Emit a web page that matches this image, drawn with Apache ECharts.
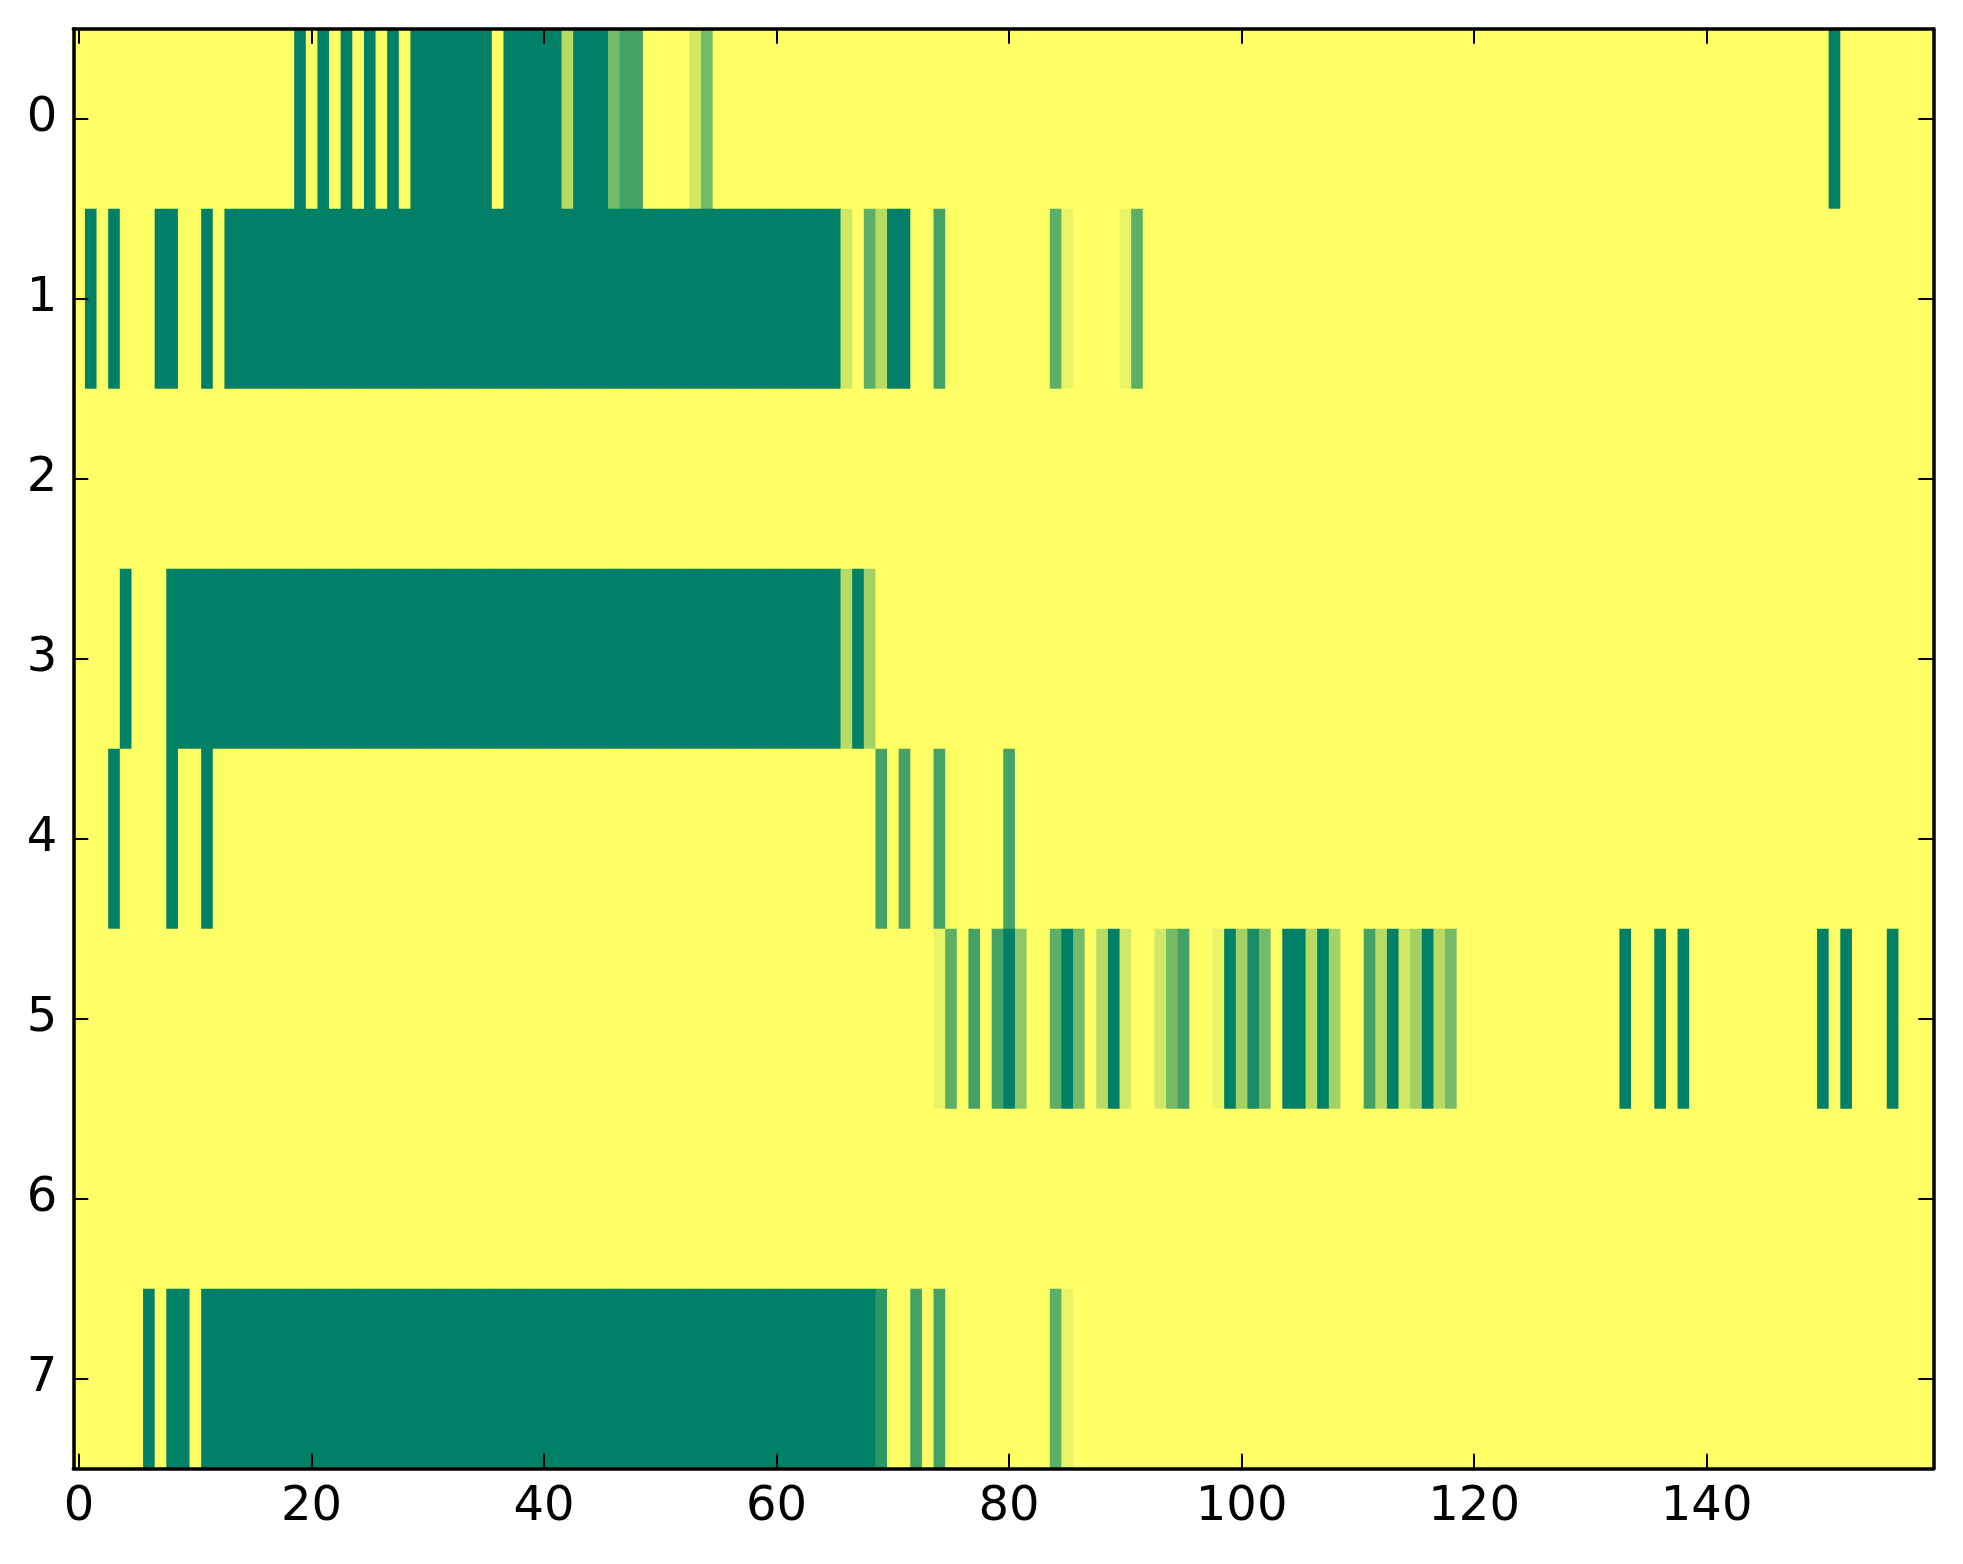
<!DOCTYPE html>
<html>
<head>
<meta charset="utf-8">
<script src="https://cdn.jsdelivr.net/npm/echarts@6/dist/echarts.min.js"></script>
<style>
html,body{margin:0;padding:0;background:#fff;}
#chart{width:1963px;height:1564px;}
</style>
</head>
<body>
<div id="chart"></div>
<script>
// Column categories 0..159 and row categories 0..7
const xCategories = ['0','1','2','3','4','5','6','7','8','9','10','11','12','13','14','15','16','17','18','19','20','21','22','23','24','25','26','27','28','29','30','31','32','33','34','35','36','37','38','39','40','41','42','43','44','45','46','47','48','49','50','51','52','53','54','55','56','57','58','59','60','61','62','63','64','65','66','67','68','69','70','71','72','73','74','75','76','77','78','79','80','81','82','83','84','85','86','87','88','89','90','91','92','93','94','95','96','97','98','99','100','101','102','103','104','105','106','107','108','109','110','111','112','113','114','115','116','117','118','119','120','121','122','123','124','125','126','127','128','129','130','131','132','133','134','135','136','137','138','139','140','141','142','143','144','145','146','147','148','149','150','151','152','153','154','155','156','157','158','159'];
const yCategories = ['0','1','2','3','4','5','6','7'];
const xTickLabels = ['0','20','40','60','80','100','120','140'];

// Cell values per row (0 = yellow, 1 = dark green), 160 columns each
const row0 = [
0,0,0,0,0,0,0,0,0,0, 0,0,0,0,0,0,0,0,0,1, 0,1,0,1,0,1,0,1,0,1, 1,1,1,1,1,1,0,1,1,1,
1,1,.28,1,1,1,.54,.73,.73,0, 0,0,0,.18,.54,0,0,0,0,0, 0,0,0,0,0,0,0,0,0,0, 0,0,0,0,0,0,0,0,0,0,
0,0,0,0,0,0,0,0,0,0, 0,0,0,0,0,0,0,0,0,0, 0,0,0,0,0,0,0,0,0,0, 0,0,0,0,0,0,0,0,0,0,
0,0,0,0,0,0,0,0,0,0, 0,0,0,0,0,0,0,0,0,0, 0,0,0,0,0,0,0,0,0,0, 0,1,0,0,0,0,0,0,0,0];
const row1 = [
0,1,0,1,0,0,0,1,1,0, 0,1,0,1,1,1,1,1,1,1, 1,1,1,1,1,1,1,1,1,1, 1,1,1,1,1,1,1,1,1,1,
1,1,1,1,1,1,1,1,1,1, 1,1,1,1,1,1,1,1,1,1, 1,1,1,1,1,1,.18,0,.63,.28, 1,1,0,0,.73,0,0,0,0,0,
0,0,0,0,.63,.09,0,0,0,0, .09,.63,0,0,0,0,0,0,0,0, 0,0,0,0,0,0,0,0,0,0, 0,0,0,0,0,0,0,0,0,0,
0,0,0,0,0,0,0,0,0,0, 0,0,0,0,0,0,0,0,0,0, 0,0,0,0,0,0,0,0,0,0, 0,0,0,0,0,0,0,0,0,0];
const row2 = [
0,0,0,0,0,0,0,0,0,0, 0,0,0,0,0,0,0,0,0,0, 0,0,0,0,0,0,0,0,0,0, 0,0,0,0,0,0,0,0,0,0,
0,0,0,0,0,0,0,0,0,0, 0,0,0,0,0,0,0,0,0,0, 0,0,0,0,0,0,0,0,0,0, 0,0,0,0,0,0,0,0,0,0,
0,0,0,0,0,0,0,0,0,0, 0,0,0,0,0,0,0,0,0,0, 0,0,0,0,0,0,0,0,0,0, 0,0,0,0,0,0,0,0,0,0,
0,0,0,0,0,0,0,0,0,0, 0,0,0,0,0,0,0,0,0,0, 0,0,0,0,0,0,0,0,0,0, 0,0,0,0,0,0,0,0,0,0];
const row3 = [
0,0,0,0,1,0,0,0,1,1, 1,1,1,1,1,1,1,1,1,1, 1,1,1,1,1,1,1,1,1,1, 1,1,1,1,1,1,1,1,1,1,
1,1,1,1,1,1,1,1,1,1, 1,1,1,1,1,1,1,1,1,1, 1,1,1,1,1,1,.28,1,.36,0, 0,0,0,0,0,0,0,0,0,0,
0,0,0,0,0,0,0,0,0,0, 0,0,0,0,0,0,0,0,0,0, 0,0,0,0,0,0,0,0,0,0, 0,0,0,0,0,0,0,0,0,0,
0,0,0,0,0,0,0,0,0,0, 0,0,0,0,0,0,0,0,0,0, 0,0,0,0,0,0,0,0,0,0, 0,0,0,0,0,0,0,0,0,0];
const row4 = [
0,0,0,1,0,0,0,0,1,0, 0,1,0,0,0,0,0,0,0,0, 0,0,0,0,0,0,0,0,0,0, 0,0,0,0,0,0,0,0,0,0,
0,0,0,0,0,0,0,0,0,0, 0,0,0,0,0,0,0,0,0,0, 0,0,0,0,0,0,0,0,0,.73, 0,.73,0,0,.73,0,0,0,0,0,
.73,0,0,0,0,0,0,0,0,0, 0,0,0,0,0,0,0,0,0,0, 0,0,0,0,0,0,0,0,0,0, 0,0,0,0,0,0,0,0,0,0,
0,0,0,0,0,0,0,0,0,0, 0,0,0,0,0,0,0,0,0,0, 0,0,0,0,0,0,0,0,0,0, 0,0,0,0,0,0,0,0,0,0];
const row5 = [
0,0,0,0,0,0,0,0,0,0, 0,0,0,0,0,0,0,0,0,0, 0,0,0,0,0,0,0,0,0,0, 0,0,0,0,0,0,0,0,0,0,
0,0,0,0,0,0,0,0,0,0, 0,0,0,0,0,0,0,0,0,0, 0,0,0,0,0,0,0,0,0,0, 0,0,0,0,.09,.63,0,.73,0,.73,
1,.45,0,0,.63,1,.54,0,.28,1, .18,0,0,.18,.54,.73,0,0,.09,1, .36,.9,.54,0,1,1,.28,1,.36,0, 0,.73,.28,1,.18,.36,1,.28,.54,0,
0,0,0,0,0,0,0,0,0,0, 0,0,0,1,0,0,1,0,1,0, 0,0,0,0,0,0,0,0,0,0, 1,0,1,0,0,0,1,0,0,0];
const row6 = [
0,0,0,0,0,0,0,0,0,0, 0,0,0,0,0,0,0,0,0,0, 0,0,0,0,0,0,0,0,0,0, 0,0,0,0,0,0,0,0,0,0,
0,0,0,0,0,0,0,0,0,0, 0,0,0,0,0,0,0,0,0,0, 0,0,0,0,0,0,0,0,0,0, 0,0,0,0,0,0,0,0,0,0,
0,0,0,0,0,0,0,0,0,0, 0,0,0,0,0,0,0,0,0,0, 0,0,0,0,0,0,0,0,0,0, 0,0,0,0,0,0,0,0,0,0,
0,0,0,0,0,0,0,0,0,0, 0,0,0,0,0,0,0,0,0,0, 0,0,0,0,0,0,0,0,0,0, 0,0,0,0,0,0,0,0,0,0];
const row7 = [
0,0,0,0,0,0,1,0,1,1, 0,1,1,1,1,1,1,1,1,1, 1,1,1,1,1,1,1,1,1,1, 1,1,1,1,1,1,1,1,1,1,
1,1,1,1,1,1,1,1,1,1, 1,1,1,1,1,1,1,1,1,1, 1,1,1,1,1,1,1,1,1,.82, 0,0,.73,0,.73,0,0,0,0,0,
0,0,0,0,.63,.09,0,0,0,0, 0,0,0,0,0,0,0,0,0,0, 0,0,0,0,0,0,0,0,0,0, 0,0,0,0,0,0,0,0,0,0,
0,0,0,0,0,0,0,0,0,0, 0,0,0,0,0,0,0,0,0,0, 0,0,0,0,0,0,0,0,0,0, 0,0,0,0,0,0,0,0,0,0];

const rows = [row0, row1, row2, row3, row4, row5, row6, row7];

const cells = [];
rows.forEach(function (r, yi) {
  r.forEach(function (v, xi) { cells.push([xi, yi, v]); });
});

const FONT = 'DejaVu Sans';
const showX = function (idx, val) { return xTickLabels.indexOf(String(val)) >= 0; };

const baseAxis = {
  axisLine: { show: true, onZero: false, lineStyle: { color: '#000', width: 3.5 } },
  axisTick: { show: true, inside: true, length: 15, alignWithLabel: true, lineStyle: { color: '#000', width: 2 } },
  splitLine: { show: false },
  z: 10
};

const chart = echarts.init(document.getElementById('chart'), null, { renderer: 'canvas' });
chart.setOption({
  animation: false,
  backgroundColor: '#ffffff',
  grid: { left: 73.3, top: 28.7, width: 1860, height: 1440, containLabel: false },
  xAxis: [
    Object.assign({}, baseAxis, {
      type: 'category', data: xCategories, position: 'bottom',
      axisTick: Object.assign({}, baseAxis.axisTick, { interval: showX }),
      axisLabel: { show: true, interval: showX, margin: 15, color: '#000', fontFamily: FONT, fontSize: 48 }
    }),
    Object.assign({}, baseAxis, {
      type: 'category', data: xCategories, position: 'top',
      axisTick: Object.assign({}, baseAxis.axisTick, { interval: showX }),
      axisLabel: { show: false }
    })
  ],
  yAxis: [
    Object.assign({}, baseAxis, {
      type: 'category', data: yCategories, inverse: true, position: 'left',
      axisTick: Object.assign({}, baseAxis.axisTick, { interval: 0 }),
      axisLabel: { show: true, interval: 0, margin: 16, color: '#000', fontFamily: FONT, fontSize: 48 }
    }),
    Object.assign({}, baseAxis, {
      type: 'category', data: yCategories, inverse: true, position: 'right',
      axisTick: Object.assign({}, baseAxis.axisTick, { interval: 0 }),
      axisLabel: { show: false }
    })
  ],
  visualMap: {
    type: 'continuous', show: false, min: 0, max: 1, dimension: 2, seriesIndex: 0,
    inRange: { color: ['#ffff66', '#008066'] }
  },
  series: [{
    type: 'custom',
    xAxisIndex: 0, yAxisIndex: 0,
    coordinateSystem: 'cartesian2d',
    data: cells,
    encode: { x: 0, y: 1 },
    clip: false,
    silent: true,
    renderItem: function (params, api) {
      const c = api.coord([api.value(0), api.value(1)]);
      const s = api.size([1, 1]);
      return {
        type: 'rect',
        shape: { x: c[0] - s[0] / 2, y: c[1] - s[1] / 2, width: s[0] + 0.9, height: s[1] + 0.9 },
        style: { fill: api.visual('color') }
      };
    }
  }]
});
</script>
</body>
</html>
